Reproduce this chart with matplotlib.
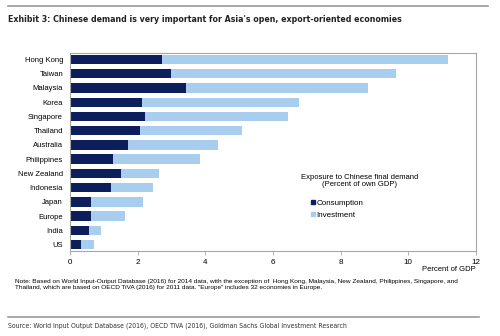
import os
import numpy as np
import matplotlib
matplotlib.use("Agg")
import matplotlib.pyplot as plt
import matplotlib.font_manager as fm
from matplotlib.lines import Line2D

# Exposure to Chinese final demand, percent of own GDP
countries = ['Hong Kong', 'Taiwan', 'Malaysia', 'Korea', 'Singapore', 'Thailand',
             'Australia', 'Philippines', 'New Zealand', 'Indonesia', 'Japan',
             'Europe', 'India', 'US']
consumption = [2.71, 2.98, 3.42, 2.14, 2.22, 2.06, 1.70, 1.26, 1.50, 1.20, 0.63, 0.63, 0.56, 0.32]
investment = [8.46, 6.66, 5.39, 4.63, 4.23, 3.02, 2.66, 2.58, 1.12, 1.25, 1.52, 0.99, 0.37, 0.39]
xticks = [0, 2, 4, 6, 8, 10, 12]

dark = '#0c1f5c'
light = '#a9cdee'
frame = '#a6a6a6'

plt.rcParams['font.family'] = ['Liberation Sans', 'DejaVu Sans']


def narrow_font(names, weight):
    # look for a condensed face by file name, fall back to the normal family
    for n in names:
        for f in fm.fontManager.ttflist:
            if os.path.basename(f.fname) == n:
                return fm.FontProperties(fname=f.fname), n
    return fm.FontProperties(family='Liberation Sans', weight=weight), None


title_fp, t_name = narrow_font(['LiberationSansNarrow-Bold.ttf', 'DejaVuSansCondensed-Bold.ttf'], 'bold')
src_fp, s_name = narrow_font(['LiberationSansNarrow-Regular.ttf', 'DejaVuSansCondensed.ttf'], 'normal')
title_sizes = {'LiberationSansNarrow-Bold.ttf': 7.6, 'DejaVuSansCondensed-Bold.ttf': 6.3}
src_sizes = {'LiberationSansNarrow-Regular.ttf': 6.4, 'DejaVuSansCondensed.ttf': 4.95}
title_fp.set_size(title_sizes.get(t_name, 6.8))
src_fp.set_size(src_sizes.get(s_name, 5.0))

fs = 5.5

fig = plt.figure(figsize=(5.0, 3.36), dpi=100)
ax = fig.add_axes([0.14, 0.253, 0.812, 0.589])

y = np.arange(len(countries))[::-1]
ax.barh(y, consumption, height=0.66, color=dark, label='Consumption')
ax.barh(y, investment, left=consumption, height=0.66, color=light, label='Investment')

ax.set_ylim(-0.45, len(countries) - 0.55)
ax.set_xlim(0, 12)
ax.set_xticks(xticks)
ax.set_xticklabels([str(t) for t in xticks], fontsize=fs + 0.3)
ax.set_yticks(y)
ax.set_yticklabels(countries, fontsize=fs)
ax.tick_params(axis='y', length=0, pad=5)
ax.tick_params(axis='x', length=3, width=0.6, color=frame, pad=2.5)
for s in ax.spines.values():
    s.set_color(frame)
    s.set_linewidth(0.8)

ax.text(1.0, -0.093, 'Percent of GDP', transform=ax.transAxes, ha='right', va='center', fontsize=fs)

handles = [Line2D([], [], marker='s', ls='', color=dark, markersize=3.2),
           Line2D([], [], marker='s', ls='', color=light, markersize=3.2)]
fig.text(0.72, 1 - 181 / 336, 'Exposure to Chinese final demand\n(Percent of own GDP)',
         ha='center', va='center', fontsize=fs, linespacing=1.15)
fig.legend(handles, ['Consumption', 'Investment'], loc='upper left',
           bbox_to_anchor=(0.614, 1 - 195 / 336), frameon=False, fontsize=5.8,
           handlelength=0.5, handletextpad=0.15, labelspacing=0.55, borderpad=0)

fig.add_artist(Line2D([0.016, 0.976], [1 - 6 / 336] * 2, color='#9a9a9a', lw=1.2))
fig.text(0.016, 1 - 20 / 336, "Exhibit 3: Chinese demand is very important for Asia's open, export-oriented economies",
         ha='left', va='center', fontproperties=title_fp, color='#222222')

fig.text(0.03, 1 - 284.7 / 336,
         'Note: Based on World Input-Output Database (2016) for 2014 data, with the exception of  Hong Kong, Malaysia, New Zealand, Philippines, Singapore, and\n'
         'Thailand, which are based on OECD TiVA (2016) for 2011 data. "Europe" includes 32 economies in Europe.',
         ha='left', va='center', fontsize=4.65, linespacing=1.15)

fig.add_artist(Line2D([0.016, 0.958], [1 - 316.5 / 336] * 2, color='#9a9a9a', lw=1.2))
fig.text(0.016, 1 - 326 / 336,
         'Source: World Input Output Database (2016), OECD TiVA (2016), Goldman Sachs Global Investment Research',
         ha='left', va='center', fontproperties=src_fp, color='#333333')

fig.savefig('out.png', dpi=100)
